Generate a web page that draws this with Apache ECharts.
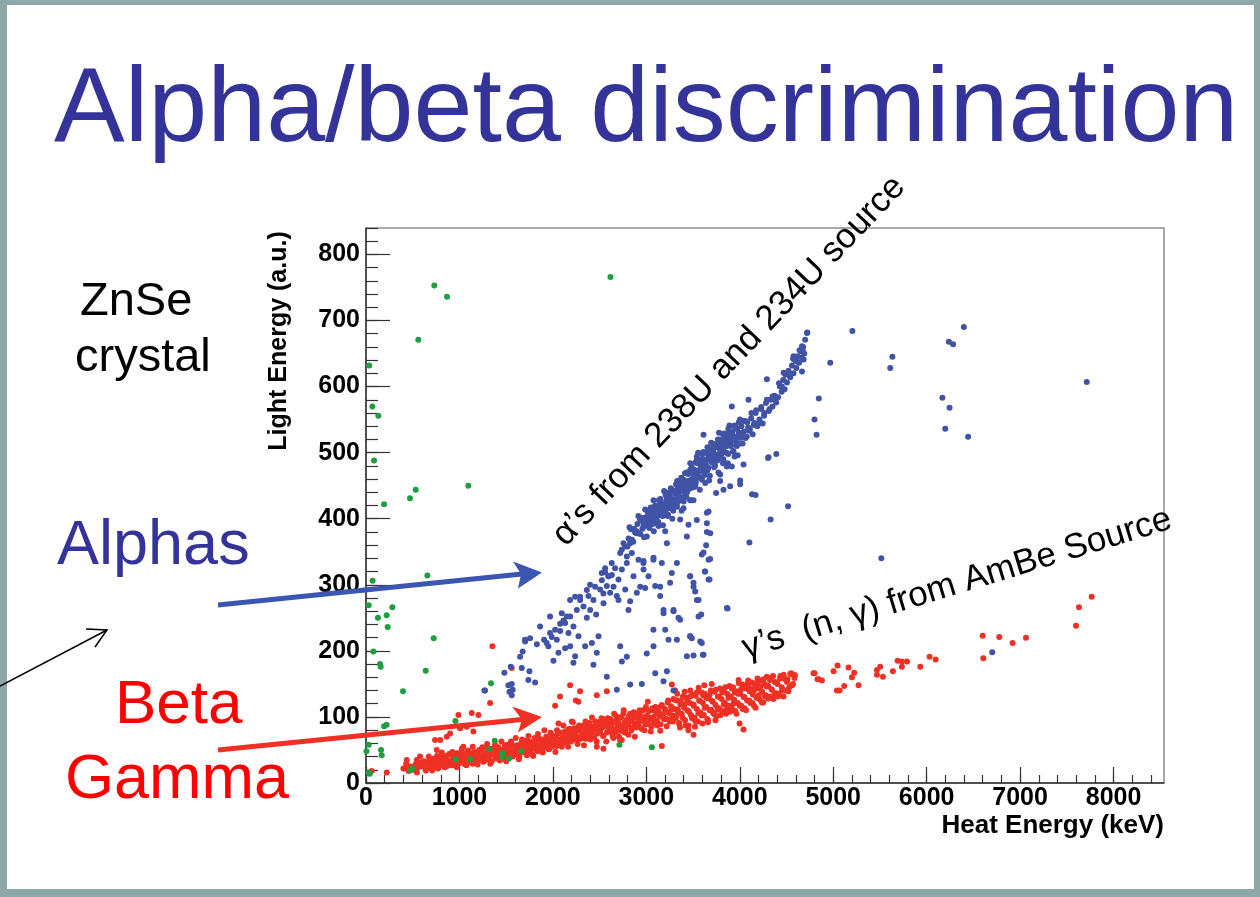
<!DOCTYPE html>
<html><head><meta charset="utf-8">
<script src="https://cdn.jsdelivr.net/npm/echarts@6/dist/echarts.min.js"></script>
<style>html,body{margin:0;padding:0;background:#fff}#chart{width:1260px;height:897px}</style>
</head><body><div id="chart"></div>
<script>
// ---- axis ranges & tick labels ----
const xRange = [0, 8540];
const yRange = [0, 840];
const xMajorTicks = [0,1000,2000,3000,4000,5000,6000,7000,8000];
const yMajorTicks = [0,100,200,300,400,500,600,700,800];
const xMinorStep = 200;
const yMinorStep = 20;

// ---- alpha events (blue) : [Heat Energy keV, Light Energy a.u.] ----
const alphaPoints = [
 [1274,140],[1481,167],[1549,176],[1524,148],[1560,150],[1535,138],[1570,141],[1560,133],[1267,140],
 [1649,191],[1677,199],[1667,174],[1749,169],[1738,156],[1810,152],
 [1703,214],[1756,219],[1828,210],[1863,237],[1906,217],[1970,252],[1952,207],[1988,221],[2006,185],
 [2060,197],[2042,217],[2078,230],[2078,241],[2113,246],[2131,204],[2167,227],[2185,252],[2185,207],
 [2220,237],[2220,182],[2238,192],[2256,262],[2274,222],[2292,277],[2327,267],[2345,207],[2363,250],
 [2381,283],[2399,262],[2417,212],[2434,277],[2463,255],[2470,197],[2488,222],[2506,293],[2524,307],
 [2542,272],[2559,319],[2577,298],[2595,313],[2613,288],[2631,315],[2649,297],[2666,325],[2684,283],
 [2702,308],[2720,348],[2738,323],[2756,363],[2774,293],[2791,333],[2798,358],[2827,368],[2827,275],
 [2845,348],[2863,313],[2880,379],[2898,288],[2916,338],[2934,399],[2970,323],[2970,336],[2988,295],
 [3005,373],[3023,401],[3041,409],[3077,341],[3095,298],[3130,389],[3148,283],[3166,333],[3184,257],
 [3202,381],[3220,363],[3237,217],[3255,303],[3273,318],[3291,260],[3327,333],[3344,250],[3362,399],
 [3398,416],[3434,373],[3451,391],[3469,313],[3487,219],[3505,303],[3523,290],[3541,277],[3559,252],
 [3577,214],[3594,346],[3612,194],[3630,320],[3648,409],[3666,338],[3666,308],[3684,378],[3862,265],
 [2434,179],[2577,161],[2684,141],[2827,149],[2952,150],[3095,166],[3220,169],[3184,154],[3291,140],
 [3434,192],[3505,193],[3469,222],[3202,232],[3077,207],[2738,184],
 [1702,217],[1970,227],[2024,232],[1934,212],[2095,257],[2149,252],[2131,242],[2184,277],[2238,282],
 [2291,282],[2363,292],[2398,300],[2452,297],[2523,318],[2559,325],[2595,313],[2630,333],[2737,353],
 [2773,358],[2791,343],[2827,363],[2898,378],[2969,388],[3005,398],[3059,404],[3112,409],[3184,419],
 [3255,429],[3327,444],[3398,459],[3470,474],[3541,494],
 [2969,333],[3076,338],[3023,313],[3148,297],[2934,297],[3184,262],[3291,262],[3362,247],[3469,313],
 [3505,297],[3559,277],[2809,262],[2702,277],[2541,287],[3076,232],[3327,217],[3470,222],[2720,207],
 [2791,191],[3005,196],
 [2810,370],[2835,384],[2860,365],[2885,380],
 [2905,392],[2920,378],[2940,398],[2958,385],[2975,372],[2990,402],
 [3005,395],[3015,410],[3030,388],[3042,404],[3055,415],[3068,396],[3080,381],[3092,407],
 [3105,402],[3115,418],[3128,395],[3140,412],[3152,424],[3165,405],[3178,390],[3190,416],
 [3205,413],[3215,428],[3228,404],[3240,422],[3252,435],[3265,416],[3278,400],[3290,430],
 [3305,426],[3315,441],[3328,418],[3340,436],[3352,450],[3365,428],[3378,412],[3390,444],
 [3405,440],[3415,457],[3428,433],[3440,452],[3452,468],[3465,446],[3478,428],[3490,460],
 [3505,458],[3512,474],[3525,450],[3535,468],[3548,484],[3560,462],[3572,444],[3585,478],[3595,490],
 [3605,472],[3612,490],[3625,466],[3635,484],[3648,500],[3660,476],[3672,458],[3685,494],[3695,505],
 [3705,486],[3712,502],[3725,478],[3735,496],[3748,512],[3760,488],[3772,470],[3785,506],[3795,520],
 [3805,498],[3812,514],[3825,490],[3835,508],[3848,524],[3860,500],[3872,484],[3885,518],[3895,532],
 [3905,510],[3915,526],[3928,502],[3940,520],[3952,536],[3965,512],[3978,496],[3990,530],
 [4005,522],[4018,540],[4030,514],[4045,532],[4060,548],[4075,524],[4090,538],
 [4108,535],[4122,552],[4138,528],[4155,545],[4170,560],[4188,540],
 [4210,550],[4228,566],[4245,544],[4262,560],[4280,575],
 [4310,563],[4330,580],[4350,570],[4372,586],[4390,576],
 [4410,584],[4430,600],[4448,592],[4465,610],[4480,596],
 [4505,606],[4522,624],[4540,614],[4558,632],[4575,620],[4592,640],
 [4605,628],[4620,646],[4635,636],[4650,654],[4662,644],[4678,660],[4690,650],[4700,671],[4719,681],
 [3310,438],[3335,425],[3360,445],[3385,432],[3410,452],[3435,440],[3460,458],[3485,447],[3510,466],
 [3530,455],[3555,472],[3580,462],[3600,480],[3620,470],[3640,488],[3660,478],[3680,496],[3700,486],
 [3720,500],[3740,492],[3760,508],[3780,498],[3800,514],[3820,504],[3840,518],[3860,510],[3880,524],
 [3900,516],[3920,530],[3945,522],[3970,536],[3995,526],
 [3010,402],[3035,396],[3060,408],[3085,400],[3110,414],[3135,406],[3160,418],[3185,410],[3210,424],
 [3235,416],[3260,428],[3285,420],
 [2820,387],[2845,368],[2870,385],[2895,381],[2915,404],[2935,377],[2952,401],[2970,393],[2988,414],
 [3002,390],[3018,407],[3033,386],[3048,417],[3062,402],[3077,428],[3091,397],[3106,419],[3120,392],
 [3134,428],[3148,408],[3162,420],[3176,404],[3190,442],[3204,412],[3218,433],[3232,406],[3246,440],
 [3260,426],[3274,444],[3288,412],[3302,440],[3316,425],[3330,457],[3344,433],[3358,458],[3372,431],
 [3386,451],[3400,426],[3414,469],[3428,450],[3442,468],[3456,445],[3470,484],[3484,455],[3498,473],
 [3512,448],[3526,485],[3540,469],[3554,500],[3568,464],[3582,488],[3596,459],[3610,501],[3624,478],
 [3638,500],[3652,473],[3666,494],[3680,465],[3694,515],[3708,485],[3722,513],[3736,480],[3750,508],
 [3764,497],[3778,530],[3792,491],[3806,517],[3820,484],[3834,529],[3848,510],[3862,528],[3876,498],
 [3890,541],[3904,511],[3918,527],[3932,502],[3946,541],[3960,516],[3974,537],[3988,513],[4002,550],
 [4020,527],[4040,548],[4060,522],[4080,546],[4100,533],[4125,560],[4150,542],[4175,564],[4200,544],
 [4230,569],[4260,556],[4290,580],[4320,566],[4350,585],[4380,580],[4420,605],[4450,600],[4490,618],
 [4530,618],[4570,642],[4610,638],[4640,655],[4675,654],
 [3012,398],[3038,412],[3066,392],[3094,420],[3122,404],[3150,430],[3178,414],[3206,436],[3234,420],
 [3262,446],[3290,428],[3318,452],[3346,438],[3374,462],[3402,444],[3430,470],[3458,452],[3486,478],
 [3514,462],[3542,490],[3570,474],[3598,498],[3626,486],[3654,508],[3682,490],[3710,512],[3738,494],
 [3766,520],[3794,506],[3822,528],[3850,512],[3878,536],[3906,520],[3934,540],[3962,524],[3990,546],
 [3666,411],[3540,398],[3469,428],[3505,428],[3790,457],[3897,449],[4004,458],[4004,452],[3969,510],
 [4040,482],[3915,479],[3747,439],[3826,444],[3630,454],[3790,467],[3862,479],[3944,494],[4308,493],
 [3915,570],[3612,527],[4093,580],[4290,611],[4469,621],[4576,646],[4666,661],[4684,641],[4666,623],
 [4723,682],[5205,684],[6398,690],[6238,668],[6283,664],[4968,636],[5633,645],[5610,628],[7713,607],
 [4846,582],[6168,583],[6245,568],[4800,550],[4822,527],[6199,536],[6444,524],[4303,492],[4391,498],
 [4131,437],[4169,436],[4517,419],[4330,399],[4103,364],[5515,340],[6702,198],[3869,264],[3648,393],
 [3648,380],[3640,360],[3612,349],[3683,339],[3626,320],[3676,308],[3587,255],[3594,212],[3605,194]
];

// ---- beta / gamma events (red) ----
const gammaPoints = [
 [410,22],[430,29],[455,18],[480,25],[510,20],[530,28],[545,16],[560,24],[585,31],[605,25],[620,33],
 [645,21],[660,29],[680,36],[695,24],[705,31],[720,23],[740,35],[755,28],[770,22],[785,33],[795,39],
 [805,27],[815,36],[830,30],[850,41],[860,25],[875,34],[890,29],[895,43],[905,33],[920,27],[935,39],
 [950,31],[965,45],[975,25],[990,36],[998,30],[1005,40],[1015,32],[1030,46],[1045,35],[1060,28],
 [1070,41],[1085,37],[1095,49],[1105,34],[1115,43],[1130,38],[1140,29],[1155,47],[1170,36],[1185,42],
 [1195,32],[1205,44],[1215,37],[1230,50],[1245,40],[1255,32],[1270,45],[1285,39],[1295,53],[1305,36],
 [1320,47],[1330,42],[1345,33],[1360,51],[1375,44],[1385,38],[1398,48],[1405,41],[1415,54],[1430,46],
 [1445,36],[1460,49],[1475,43],[1488,57],[1495,39],[1505,47],[1518,37],[1530,52],[1545,45],[1560,59],
 [1572,41],[1585,50],[1598,55],[1605,46],[1615,57],[1630,50],[1642,40],[1655,54],[1668,61],[1680,47],
 [1695,53],[1705,58],[1715,46],[1728,55],[1740,63],[1752,50],[1765,57],[1778,44],[1790,61],[1805,52],
 [1812,64],[1825,58],[1838,48],[1850,67],[1862,55],[1875,61],[1890,51],[1905,64],[1915,56],[1928,70],
 [1940,59],[1952,52],[1965,66],[1978,62],[1992,72],[2005,60],[2015,70],[2028,64],[2040,56],[2052,74],
 [2065,66],[2078,60],[2090,76],[2105,68],[2115,61],[2128,78],[2140,70],[2152,63],[2165,81],[2178,72],
 [2190,65],[2205,75],[2215,67],[2228,83],[2240,73],[2252,65],[2265,79],[2278,86],[2290,70],[2305,78],
 [2315,69],[2328,87],[2340,75],[2352,67],[2365,82],[2378,77],[2392,91],[2405,73],[2415,85],[2428,80],
 [2440,69],[2452,93],[2465,83],[2478,75],[2490,88],[2505,79],[2518,91],[2530,84],[2542,72],[2555,96],
 [2568,86],[2580,77],[2592,92],[2605,84],[2615,97],[2628,88],[2640,76],[2652,93],[2665,81],[2678,101],
 [2690,87],[2705,91],[2718,79],[2730,99],[2742,86],[2755,105],[2768,92],[2780,82],[2792,96],[2805,88],
 [2815,101],[2828,93],[2840,80],[2852,97],[2865,107],[2878,90],[2890,84],[2905,99],[2915,87],[2928,105],
 [2940,94],[2952,82],[2965,110],[2978,97],[2990,89],[3005,102],[3015,90],[3028,109],[3040,97],[3052,85],
 [3065,113],[3078,100],[3090,93],[3105,106],[3115,94],[3128,114],[3140,101],[3152,89],[3165,118],
 [3178,104],[3190,97],[3205,110],[3215,97],[3228,122],[3240,106],[3252,93],[3265,116],[3278,102],
 [3290,127],[3305,112],[3315,98],[3328,125],[3340,108],[3352,91],[3365,119],[3378,105],[3392,131],
 [3405,114],[3415,95],[3428,129],[3440,110],[3452,87],[3465,121],[3478,103],[3490,134],[3505,117],
 [3515,99],[3528,132],[3540,112],[3552,93],[3565,125],[3578,107],[3592,137],[3605,121],[3615,103],
 [3628,135],[3640,115],[3652,97],[3665,128],[3678,110],[3690,140],[3705,124],[3715,106],[3728,138],
 [3740,118],[3752,101],[3765,131],[3778,113],[3790,143],[3805,127],[3815,109],[3828,141],[3840,122],
 [3852,105],[3865,135],[3878,117],[3890,147],[3905,131],[3915,113],[3928,145],[3940,126],[3952,109],
 [3965,139],[3978,121],[3990,151],[4005,135],[4015,117],[4028,149],[4040,130],[4052,113],[4065,143],
 [4078,125],[4090,155],[4105,139],[4115,121],[4128,152],[4140,134],[4152,117],[4165,147],[4178,129],
 [4190,158],[4205,143],[4215,126],[4228,155],[4240,138],[4252,122],[4265,150],[4278,133],[4290,161],
 [4305,147],[4318,131],[4330,159],[4345,141],[4360,127],[4375,153],[4390,136],[4405,150],[4420,135],
 [4435,162],[4450,145],[4468,131],[4485,157],[4505,153],[4520,139],[4540,165],[4560,148],[4585,159],
 [3330,135],[3360,84],[3410,138],[3450,80],[3470,140],[3520,85],[3560,144],[3600,90],[3620,148],
 [3660,92],[3700,150],[3740,95],
 [620,32],[640,19],[655,29],[672,40],[690,25],[708,19],[725,37],[742,29],[760,41],[776,24],[792,36],
 [810,46],[826,28],[842,24],[858,40],[874,34],[890,44],[907,27],[924,47],[940,33],[957,40],[973,24],
 [990,45],[1008,31],[1025,52],[1042,37],[1058,43],[1075,27],[1092,49],[1110,32],[1126,41],[1143,55],
 [1160,31],[1177,46],[1194,28],[1211,50],[1228,38],[1245,54],[1262,33],[1279,45],[1296,59],[1313,37],
 [1330,29],[1347,52],[1364,44],[1381,58],[1398,37],[1415,51],[1432,34],[1449,63],[1466,44],[1483,54],
 [1500,33],[1517,58],[1534,44],[1551,63],[1568,40],[1585,53],[1602,68],[1619,43],[1636,36],[1653,59],
 [1670,66],[1687,50],[1704,64],[1721,42],[1738,71],[1755,50],[1772,62],[1789,41],[1806,68],[1823,56],
 [1840,74],[1857,49],[1874,66],[1891,46],[1908,80],[1925,57],[1942,65],[1959,51],[1976,76],[1993,55],
 [2010,70],[2027,47],[2044,80],[2061,63],[2078,76],[2095,55],[2112,87],[2129,64],[2146,75],[2163,55],
 [2180,82],[2197,63],[2214,92],[2231,72],[2248,80],[2265,59],[2282,87],[2299,67],[2316,79],[2333,57],
 [2350,93],[2367,73],[2384,88],[2401,66],[2418,99],[2435,71],[2452,85],[2469,63],[2486,92],[2503,78],
 [2520,98],[2537,71],[2554,91],[2571,63],[2588,98],[2605,78],[2622,85],[2639,71],[2656,105],[2673,77],
 [2690,93],[2707,70],[2724,99],[2741,85],[2758,110],[2775,76],[2792,93],[2809,73],[2826,105],[2843,84],
 [2860,100],[2877,70],[2894,105],[2911,92],[2928,110],[2945,83],[2962,100],[2979,80],[2996,115],
 [3013,90],[3030,99],[3047,78],[3064,110],[3081,91],[3098,115],[3115,87],[3132,108],[3149,79],
 [3166,116],[3183,98],[3200,112],[3217,86],[3234,125],[3251,96],[3268,111],[3285,93],[3302,126],
 [3319,102],[3336,111],[3353,89],[3370,124],[3387,99],[3404,118],[3421,87],[3438,124],[3455,108],
 [3472,131],[3489,98],[3506,119],[3523,94],[3540,137],[3557,106],[3574,124],[3591,102],[3608,133],
 [3625,114],[3642,129],[3659,95],[3676,133],[3693,111],[3710,123],[3727,104],[3744,141],[3761,111],
 [3778,130],[3795,103],[3812,137],[3829,119],[3846,145],[3863,112],[3880,129],[3897,108],[3914,143],
 [3931,120],[3948,137],[3965,105],[3982,135],[3999,117],[4016,142],[4033,112],[4050,130],[4067,110],
 [4084,150],[4101,125],[4118,143],[4135,121],[4152,140],[4169,114],[4186,152],[4203,133],[4220,146],
 [4237,122],[4254,157],[4271,131],[4288,146],[4305,128],[4322,156],[4339,142],[4356,162],[4373,135],
 [4390,152],[4410,131],[4430,158],[4450,140],[4470,164],[4490,140],[4510,157],[4530,145],[4550,166],
 [4570,150],[4590,163],
 [1353,207],[1560,174],[1328,121],[1203,103],[1132,106],[989,103],[900,75],[864,70],[793,65],[739,65],
 [1007,83],[1078,85],[1149,78],[1042,55],[1060,42],[810,45],[757,50],[578,40],[543,35],[436,35],
 [400,22],[453,22],[222,16],[61,18],[2077,131],[2184,148],[2291,139],[2470,133],[2577,139],[2024,117],
 [2274,123],[2060,90],[2202,93],[3273,149],[3309,140],[3166,56],[4040,81],[3998,90],[3987,156],
 [2720,65],[2756,78],[2245,125],[3016,123],[2470,55],[2541,52],[2648,68],[2737,65],[3505,73],
 [4575,164],[4789,166],[4832,157],[4800,166],[4843,157],[4879,155],[5004,169],[5046,178],[5039,140],
 [5068,140],[5118,147],[5164,175],[5200,160],[5225,167],[5271,148],[5468,171],[5503,176],[5468,164],
 [5532,161],[5639,169],[5689,185],[5735,176],[5789,184],[5735,184],[5932,176],[6031,191],[6096,187],
 [6599,223],[6606,189],[6777,221],[6920,212],[7063,220],[7598,238],[7630,266],[7766,282]
];

// ---- other events (green) ----
const otherPoints = [
 [35,632],[68,570],[132,556],[86,488],[193,422],[471,431],[532,444],[560,671],[731,753],[867,736],
 [1095,450],[2616,766],[71,306],[657,314],[29,269],[128,250],[221,254],[282,266],[232,236],[725,219],
 [79,199],[150,180],[157,176],[639,170],[396,139],[1338,151],[193,86],[221,88],[29,58],[5,48],
 [161,50],[168,42],[29,16],[40,14],[471,19],[496,22],[960,36],[1113,36],[1378,64],[1320,51],[1463,45],
 [1452,39],[1531,37],[1663,48],[957,94],[2712,58],[3059,54]
];

const xMinorTicks = []; for (let v = 0; v <= xRange[1]; v += xMinorStep) xMinorTicks.push(v);
const yMinorTicks = []; for (let v = 0; v <= yRange[1]; v += yMinorStep) yMinorTicks.push(v);

const FONT = '"Liberation Sans", Arial, Helvetica, sans-serif';
const AX = '#333';
const chart = echarts.init(document.getElementById('chart'), null, {renderer: 'canvas'});

const slideBlue = '#333399';
const border = '#8ea7a9';
const plain = v => String(v);

chart.setOption({
  animation: false,
  backgroundColor: '#ffffff',
  grid: {left: 366, top: 228, right: 96, bottom: 114, show: true, borderColor: '#555', borderWidth: 1, backgroundColor: 'transparent'},
  xAxis: [
    {type: 'value', min: xRange[0], max: xRange[1], position: 'bottom',
     name: 'Heat Energy (keV)', nameLocation: 'end', nameGap: 0,
     nameTextStyle: {fontFamily: FONT, fontWeight: 'bold', fontSize: 26, color: '#000', align: 'right', verticalAlign: 'top', padding: [30, 0, 0, 0]},
     axisLine: {show: true, onZero: false, lineStyle: {color: AX, width: 1.5}},
     axisTick: {show: true, inside: true, length: 16, customValues: xMajorTicks, lineStyle: {color: AX, width: 1.2}},
     axisLabel: {show: true, customValues: xMajorTicks, formatter: plain, margin: 3, fontFamily: FONT, fontWeight: 'bold', fontSize: 25, color: '#000'},
     splitLine: {show: false}},
    {type: 'value', min: xRange[0], max: xRange[1], position: 'bottom',
     axisLine: {show: false}, axisLabel: {show: false}, splitLine: {show: false},
     axisTick: {show: true, inside: true, length: 8, customValues: xMinorTicks, lineStyle: {color: AX, width: 1.2}}}
  ],
  yAxis: [
    {type: 'value', min: yRange[0], max: yRange[1], position: 'left',
     axisLine: {show: true, onZero: false, lineStyle: {color: AX, width: 1.5}},
     axisTick: {show: true, inside: true, length: 24, customValues: yMajorTicks, lineStyle: {color: AX, width: 1.2}},
     axisLabel: {show: true, customValues: yMajorTicks, formatter: plain, margin: 6, fontFamily: FONT, fontWeight: 'bold', fontSize: 25, color: '#000'},
     splitLine: {show: false}},
    {type: 'value', min: yRange[0], max: yRange[1], position: 'left',
     axisLine: {show: false}, axisLabel: {show: false}, splitLine: {show: false},
     axisTick: {show: true, inside: true, length: 12, customValues: yMinorTicks, lineStyle: {color: AX, width: 1.2}}}
  ],
  series: [
    {name: 'beta/gamma', type: 'scatter', xAxisIndex: 0, yAxisIndex: 0, data: gammaPoints, symbolSize: 6,
     itemStyle: {color: '#ee3124', opacity: 1}, z: 3},
    {name: 'alpha', type: 'scatter', xAxisIndex: 0, yAxisIndex: 0, data: alphaPoints, symbolSize: 6,
     itemStyle: {color: '#4153a6', opacity: 1}, z: 4},
    {name: 'other', type: 'scatter', xAxisIndex: 0, yAxisIndex: 0, data: otherPoints, symbolSize: 6,
     itemStyle: {color: '#1e9e3e', opacity: 1}, z: 5}
  ],
  graphic: [
    {type: 'rect', shape: {x: 0, y: 0, width: 1260, height: 5}, style: {fill: border}, silent: true},
    {type: 'rect', shape: {x: 0, y: 0, width: 7, height: 897}, style: {fill: border}, silent: true},
    {type: 'rect', shape: {x: 1254, y: 0, width: 6, height: 897}, style: {fill: border}, silent: true},
    {type: 'rect', shape: {x: 0, y: 889, width: 1260, height: 8}, style: {fill: border}, silent: true},
    {type: 'text', x: 54, y: 112, style: {text: 'Alpha/beta discrimination', fill: slideBlue, font: '106px ' + FONT, align: 'left', verticalAlign: 'middle'}},
    {type: 'text', x: 80, y: 302, style: {text: 'ZnSe', fill: '#000', font: '47px ' + FONT, align: 'left', verticalAlign: 'middle'}},
    {type: 'text', x: 75, y: 358, style: {text: 'crystal', fill: '#000', font: '47px ' + FONT, align: 'left', verticalAlign: 'middle'}},
    {type: 'text', x: 57, y: 547, style: {text: 'Alphas', fill: slideBlue, font: '63px ' + FONT, align: 'left', verticalAlign: 'middle'}},
    {type: 'text', x: 115, y: 706, style: {text: 'Beta', fill: '#ff0000', font: '62px ' + FONT, align: 'left', verticalAlign: 'middle'}},
    {type: 'text', x: 65, y: 781, style: {text: 'Gamma', fill: '#ff0000', font: '63px ' + FONT, align: 'left', verticalAlign: 'middle'}},
    {type: 'text', x: 279, y: 341, rotation: Math.PI / 2, style: {text: 'Light Energy (a.u.)', fill: '#000', font: 'bold 25px ' + FONT, align: 'center', verticalAlign: 'middle'}},
    {type: 'text', x: 729, y: 361, rotation: 46.5 * Math.PI / 180, z: 50, style: {text: '\u03b1\u2019s from 238U and 234U source', fill: '#000', font: '35px ' + FONT, align: 'center', verticalAlign: 'middle'}},
    {type: 'text', x: 957, y: 584, rotation: 17 * Math.PI / 180, z: 50, style: {text: '\u03b3\u2019s  (n, \u03b3) from AmBe Source', fill: '#000', font: '35px ' + FONT, align: 'center', verticalAlign: 'middle'}},
    {type: 'line', z: 60, shape: {x1: 218, y1: 605, x2: 522, y2: 574}, style: {stroke: '#3b56b0', lineWidth: 5}},
    {type: 'polygon', z: 60, shape: {points: [[542, 572.5], [513, 561.5], [521, 574], [518, 588.5]]}, style: {fill: '#3b56b0'}},
    {type: 'line', z: 60, shape: {x1: 218, y1: 750, x2: 522, y2: 719.5}, style: {stroke: '#ee3124', lineWidth: 5}},
    {type: 'polygon', z: 60, shape: {points: [[542, 717], [512, 706.5], [522, 719.5], [518, 732.5]]}, style: {fill: '#ee3124'}},
    {type: 'line', z: 60, shape: {x1: 0, y1: 686, x2: 107, y2: 630}, style: {stroke: '#000', lineWidth: 1.5}},
    {type: 'polyline', z: 60, shape: {points: [[86, 629], [107, 630], [95, 647]]}, style: {stroke: '#000', lineWidth: 1.5, fill: null}}
  ]
});
</script></body></html>
